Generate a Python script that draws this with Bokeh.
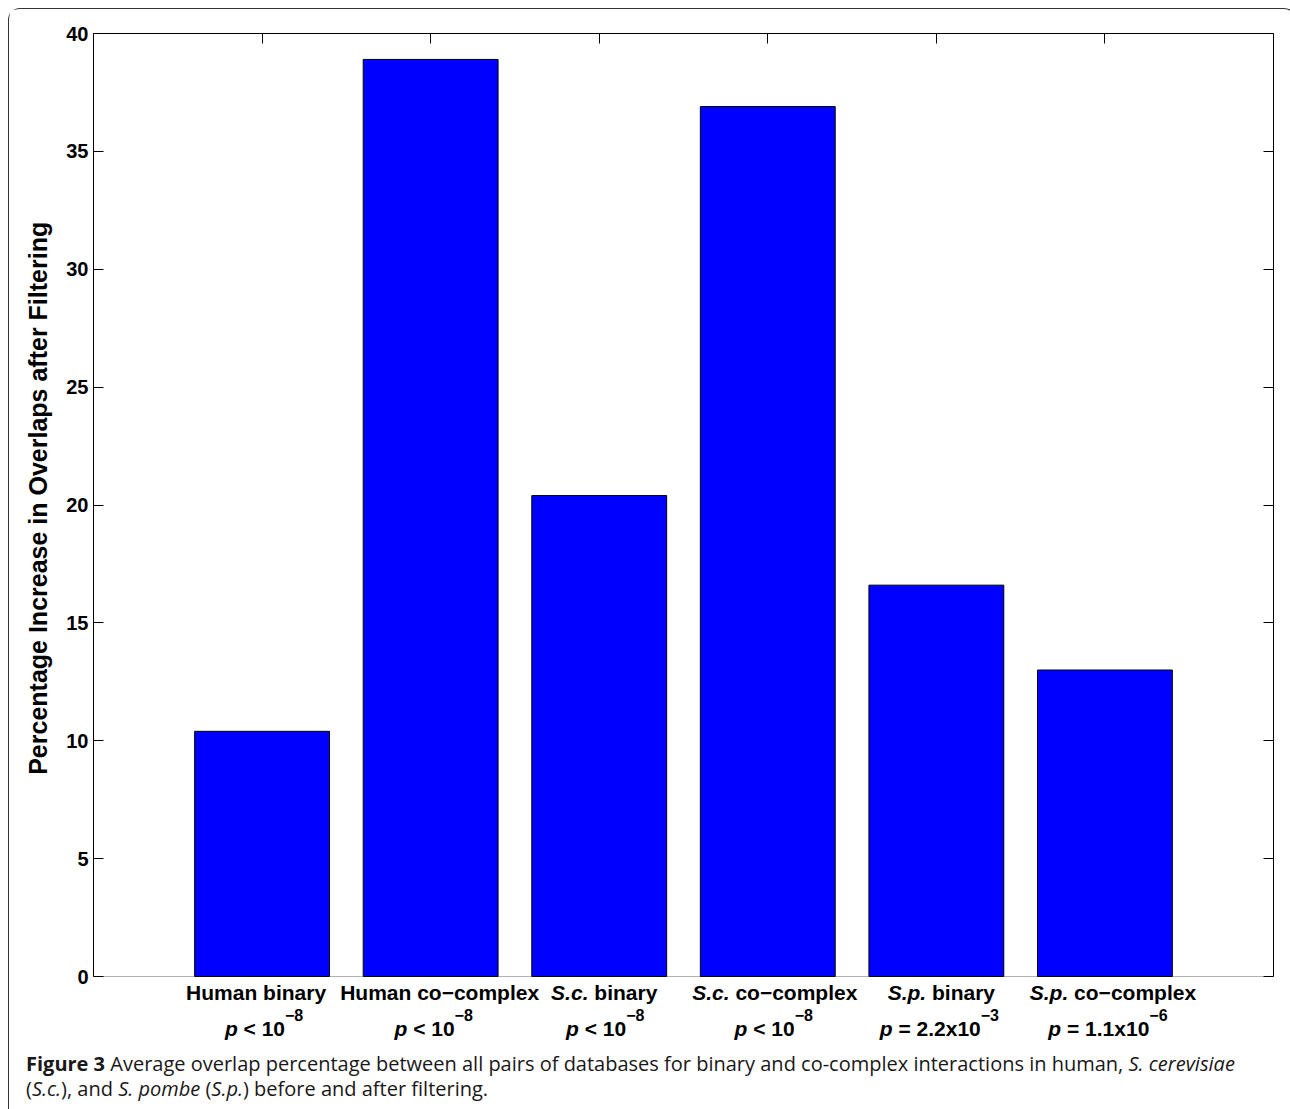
from bokeh.plotting import figure
from bokeh.models import Range1d, LinearAxis, FixedTicker, Label, Div, BoxAnnotation
from bokeh.layouts import column
from bokeh.embed import file_html
from bokeh.resources import INLINE

NB = "\u00a0"
# ---- data ----
positions = [1, 2, 3, 4, 5, 6]
values = [10.4, 38.9, 20.4, 36.9, 16.6, 13.0]
# label line 1: (italic part, normal part)
line1_italic = ["", "", "S.c.", "S.c.", "S.p.", "S.p."]
line1_normal = ["Human binary", "Human co\u2212complex", NB + "binary", NB + "co\u2212complex",
                NB + "binary", NB + "co\u2212complex"]
# label line 2: p-value text and exponent
line2_body = [NB + "<" + NB + "10", NB + "<" + NB + "10", NB + "<" + NB + "10", NB + "<" + NB + "10",
              NB + "=" + NB + "2.2x10", NB + "=" + NB + "1.1x10"]
line2_exp = ["\u22128", "\u22128", "\u22128", "\u22128", "\u22123", "\u22126"]
y_ticks = [0, 5, 10, 15, 20, 25, 30, 35, 40]
y_title = "Percentage Increase in Overlaps after Filtering"

# small horizontal nudges (px) of the category labels, as in the original figure
nudge1 = [-6, 9, 5, 7, 5, 8]
nudge2 = [2, 3, 6, 6, 3, 3]

FONT = "Liberation Sans"

# Arial/Liberation Sans Bold advance widths (per 1000 em)
W = {' ': 278, NB: 278, '.': 278, '<': 584, '=': 584, '\u2212': 584, 'x': 556, 'p': 611, 'S': 667,
     'c': 556, 'H': 722, 'u': 611, 'm': 889, 'a': 556, 'n': 611, 'b': 611, 'i': 278,
     'r': 389, 'y': 556, 'o': 611, 'l': 278, 'e': 556}
for d in "0123456789":
    W[d] = 556

def tw(s, size):
    return sum(W.get(ch, 556) for ch in s) * size / 1000.0

FIG_W = 1276
BL, BR, BT = 84, 12, 24
AX_H = 943          # pixel height of the 0..40 axis
EXTRA = 70          # pixel strip below 0 holding the category labels
Y_MAX = 40
y_min = -Y_MAX * EXTRA / AX_H

p = figure(width=FIG_W, height=BT + AX_H + EXTRA, output_backend="svg", toolbar_location=None,
           x_range=Range1d(0, 7), y_range=Range1d(y_min, Y_MAX),
           min_border_left=BL, min_border_right=BR, min_border_top=BT, min_border_bottom=0)
p.background_fill_color = "white"
p.border_fill_color = "white"
p.outline_line_color = None
p.grid.visible = False
p.xaxis.visible = False

p.vbar(x=positions, top=values, width=0.8, fill_color="#0000FF", line_color="black", line_width=1)

p.add_layout(BoxAnnotation(left=0, right=7, bottom=0, top=Y_MAX, fill_alpha=0, fill_color=None,
                           line_color="black", line_width=1))

ya = p.yaxis[0]
ya.ticker = FixedTicker(ticks=y_ticks)
ya.bounds = (0, Y_MAX)
ya.major_tick_in = 10
ya.major_tick_out = 0
ya.minor_tick_in = 0
ya.minor_tick_out = 0
ya.axis_line_color = "black"
ya.major_tick_line_color = "black"
ya.major_label_text_font = FONT
ya.major_label_text_font_style = "bold"
ya.major_label_text_font_size = "20px"
ya.major_label_text_color = "black"
ya.major_label_standoff = 5
# leading no-break spaces keep the title centred on the 0..40 axis rather than the whole frame
ya.axis_label = NB * 12 + y_title
ya.axis_label_text_font = FONT
ya.axis_label_text_font_style = "bold"
ya.axis_label_text_font_size = "25px"
ya.axis_label_text_color = "black"
ya.axis_label_standoff = 11

top_ax = LinearAxis(ticker=FixedTicker(ticks=positions), major_tick_in=10, major_tick_out=0,
                    minor_tick_in=0, minor_tick_out=0, axis_line_color="black",
                    major_label_overrides={t: "" for t in positions},
                    major_label_text_font_size="1px", major_label_standoff=0)
p.add_layout(top_ax, "above")
right_ax = LinearAxis(ticker=FixedTicker(ticks=y_ticks), bounds=(0, Y_MAX), major_tick_in=10,
                      major_tick_out=0, minor_tick_in=0, minor_tick_out=0, axis_line_color="black",
                      major_label_overrides={t: "" for t in y_ticks},
                      major_label_text_font_size="1px", major_label_standoff=0)
p.add_layout(right_ax, "right")

S1 = 21
SUP = 16
Y1, Y2, YS = -16, -52, -38

def lab(xc, dx, y, text, style, size):
    p.add_layout(Label(x=xc, y=0, x_offset=dx, y_offset=y, text=text, text_font=FONT,
                       text_font_style=style, text_font_size=f"{size}px",
                       text_align="left", text_baseline="alphabetic", text_color="black"))

for i, xc in enumerate(positions):
    it, nm = line1_italic[i], line1_normal[i]
    total = tw(it, S1) + tw(nm, S1)
    x0 = -total / 2 + nudge1[i]
    if it:
        lab(xc, x0, Y1, it, "bold italic", S1)
        x0 += tw(it, S1)
    lab(xc, x0, Y1, nm, "bold", S1)
    body, ex = line2_body[i], line2_exp[i]
    total = tw("p", S1) + tw(body, S1) + tw(ex, SUP)
    x0 = -total / 2 + nudge2[i]
    lab(xc, x0, Y2, "p", "bold italic", S1)
    x0 += tw("p", S1)
    lab(xc, x0, Y2, body, "bold", S1)
    x0 += tw(body, S1)
    lab(xc, x0, YS, ex, "bold", SUP)

caption_html = (
    '<div style="font-family: \'Open Sans\', sans-serif; font-size: 20px; line-height: 25px; '
    'color: #1a1718; white-space: nowrap; padding: 0 0 0 12px;">'
    '<b>Figure 3</b> Average overlap percentage between all pairs of databases for binary and '
    'co-complex interactions in human, <i>S. cerevisiae</i><br>'
    '(<i>S.c.</i>), and <i>S. pombe</i> (<i>S.p.</i>) before and after filtering.</div>'
)
cap = Div(text=caption_html, width=FIG_W, height=54)

layout = column(p, cap, spacing=0,
                styles={"border": "1px solid #333", "border-bottom": "none",
                        "border-radius": "12px 12px 0 0", "background": "white",
                        "margin-left": "8px", "margin-top": "8px"})

with open("out.html", "w") as f:
    f.write(file_html(layout, INLINE))
